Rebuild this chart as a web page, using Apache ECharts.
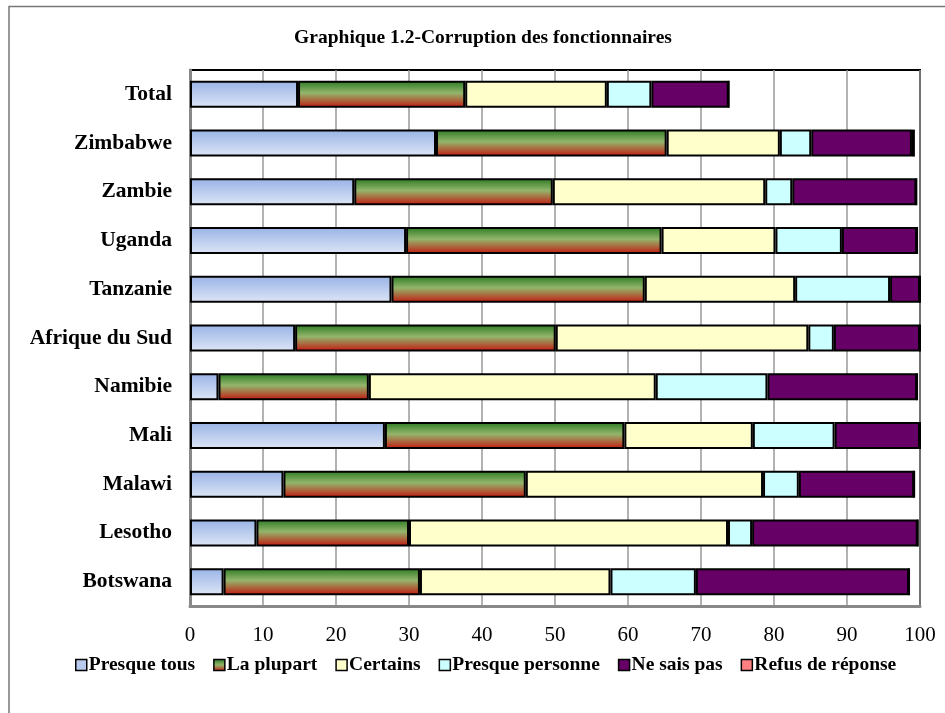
<!DOCTYPE html>
<html>
<head>
<meta charset="utf-8">
<script src="https://cdn.jsdelivr.net/npm/echarts@6/dist/echarts.min.js"></script>
<style>
html,body{margin:0;padding:0;background:#fff;}
#chart{width:945px;height:713px;}
</style>
</head>
<body>
<div id="chart"></div>
<script>
var categories = ['Total','Zimbabwe','Zambie','Uganda','Tanzanie','Afrique du Sud','Namibie','Mali','Malawi','Lesotho','Botswana'];
var presqueTous      = [14.8, 33.7, 22.5, 29.6, 27.6, 14.4,  3.9, 26.7, 12.8,  9.1,  4.6];
var laPlupart        = [22.9, 31.6, 27.2, 35.0, 34.7, 35.7, 20.6, 32.8, 33.2, 20.9, 26.9];
var certains         = [19.4, 15.5, 29.1, 15.6, 20.6, 34.6, 39.3, 17.6, 32.5, 43.7, 26.1];
var presquePersonne  = [ 6.1,  4.3,  3.7,  9.1, 13.0,  3.5, 15.3, 11.2,  4.9,  3.3, 11.7];
var neSaisPas        = [10.6, 13.8, 17.0, 10.3,  4.1, 11.8, 20.5, 11.7, 15.8, 22.7, 29.2];
var refus            = [ 0,    0.4,  0,    0,    0,    0,    0,    0,    0,    0,    0  ];
var xTicks = [0,10,20,30,40,50,60,70,80,90,100];

var serif = 'Liberation Serif, Times New Roman, serif';
var chart = echarts.init(document.getElementById('chart'));

function grad(stops){
  return new echarts.graphic.LinearGradient(0,0,0,1, stops);
}
var styles = [
  {name:'Presque tous', data:presqueTous, color: grad([{offset:0,color:'#99B3E6'},{offset:1,color:'#DDE6F6'}]), legendColor:'#B8CBEE'},
  {name:'La plupart', data:laPlupart, color: grad([{offset:0,color:'#2A7A22'},{offset:0.45,color:'#93B56C'},{offset:1,color:'#C4160E'}]), legendColor: grad([{offset:0,color:'#2A7A22'},{offset:0.5,color:'#93B56C'},{offset:1,color:'#C4160E'}])},
  {name:'Certains', data:certains, color:'#FFFFCC', legendColor:'#FFFFCC'},
  {name:'Presque personne', data:presquePersonne, color:'#CCFFFF', legendColor:'#CCFFFF'},
  {name:'Ne sais pas', data:neSaisPas, color:'#660066', legendColor:'#660066'},
  {name:'Refus de réponse', data:refus, color:'#FF8080', legendColor:'#FF8080'}
];

var series = styles.map(function(s){
  return {
    name: s.name,
    type: 'bar',
    stack: 'total',
    barWidth: 27,
    data: s.data,
    itemStyle: {color: s.color, borderColor:'#000', borderWidth:2},
    emphasis: {disabled:true},
    animation: false
  };
});

chart.setOption({
  animation: false,
  backgroundColor: '#fff',
  title: {
    text: 'Graphique 1.2-Corruption des fonctionnaires',
    left: 478, top: 23, textAlign: 'center',
    textStyle: {fontFamily: serif, fontSize: 19.5, fontWeight: 'bold', color:'#000'}
  },
  legend: {
    data: styles.map(function(s){ return {name:s.name, itemStyle:{color:s.legendColor, borderColor:'#000', borderWidth:1.5}}; }),
    left: 70, top: 650,
    itemWidth: 11, itemHeight: 11, itemGap: 18,
    icon: 'rect',
    textStyle: {fontFamily: serif, fontSize: 19.5, fontWeight:'bold', color:'#000', padding:[0,0,0,-3]}
  },
  grid: {left:190, right:25, top:70, bottom:107, show:true, borderColor:'#000', borderWidth:2, backgroundColor:'#fff'},
  xAxis: {
    type:'value', min:0, max:100, interval:10,
    axisLine:{show:true, lineStyle:{color:'#888', width:3}},
    axisTick:{show:false},
    splitLine:{show:true, lineStyle:{color:'#999', width:1.5}},
    axisLabel:{fontFamily: serif, fontSize:21, color:'#000', margin:19,
      formatter:function(v){ return xTicks.indexOf(v)>=0 ? String(v) : ''; }}
  },
  yAxis: {
    type:'category', data: categories, inverse:true,
    axisLine:{show:true, lineStyle:{color:'#888', width:3}},
    axisTick:{show:false},
    axisLabel:{fontFamily: serif, fontSize:21.5, fontWeight:'bold', color:'#000', margin:18}
  },
  graphic: [
    {type:'polyline', shape:{points:[[9,713],[9,6.5],[945,6.5]]}, style:{stroke:'#777', lineWidth:1.5, fill:null}, silent:true}
  ],
  series: series
});
</script>
</body>
</html>
